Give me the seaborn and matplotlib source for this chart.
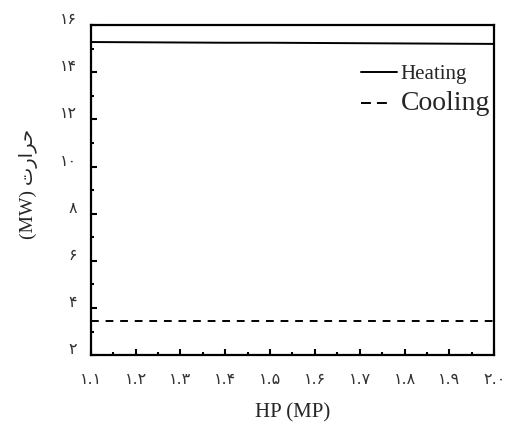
import matplotlib
matplotlib.use("Agg")
import matplotlib.pyplot as plt
import matplotlib.transforms as mtransforms
from matplotlib.lines import Line2D
from matplotlib.ticker import MultipleLocator, FixedLocator, FixedFormatter
import seaborn as sns
import pandas as pd

# ---- data ----
hp = [1.1, 1.2, 1.3, 1.4, 1.5, 1.6, 1.7, 1.8, 1.9, 2.0]
heating = [15.28, 15.27, 15.26, 15.25, 15.25, 15.24, 15.23, 15.22, 15.21, 15.20]
cooling = [3.45, 3.45, 3.45, 3.45, 3.45, 3.45, 3.45, 3.45, 3.45, 3.45]
x_tick_labels = ["۱.۱", "۱.۲", "۱.۳", "۱.۴", "۱.۵", "۱.۶", "۱.۷", "۱.۸", "۱.۹", "۲.۰"]
y_ticks = [2, 4, 6, 8, 10, 12, 14, 16]
y_tick_labels = ["۲", "۴", "۶", "۸", "۱۰", "۱۲", "۱۴", "۱۶"]
series_names = ["Heating", "Cooling"]
# y label: "حرارت (MW)" written with Arabic presentation forms in visual order
y_label = "(MW) \uFE95\uFEAD\uFE8D\uFEAE\uFEA3"
x_label = "HP (MP)"

df = pd.DataFrame({
    "hp": hp * 2,
    "value": heating + cooling,
    "series": [series_names[0]] * len(hp) + [series_names[1]] * len(hp),
})

sns.set_style("white")
plt.rcParams["font.family"] = ["Liberation Serif", "DejaVu Sans"]

fig = plt.figure(figsize=(5.1, 4.32), dpi=100)
ax = fig.add_axes([0.178, 0.178, 0.791, 0.764])

sns.lineplot(data=df, x="hp", y="value", style="series", ax=ax,
             color="black", linewidth=1.4,
             dashes={"Heating": "", "Cooling": (4.0, 3.5)},
             legend=False)

ax.set_xlim(1.1, 2.0)
ax.set_ylim(2, 16)

ax.xaxis.set_major_locator(FixedLocator(hp))
ax.xaxis.set_major_formatter(FixedFormatter(x_tick_labels))
ax.xaxis.set_minor_locator(MultipleLocator(0.05))
ax.yaxis.set_major_locator(FixedLocator(y_ticks))
ax.yaxis.set_major_formatter(FixedFormatter(y_tick_labels))
ax.yaxis.set_minor_locator(MultipleLocator(1))

ax.tick_params(axis="both", which="major", direction="in", length=4, width=1.5,
               labelsize=11.5, bottom=True, left=True, top=False, right=False,
               colors="black")
ax.tick_params(axis="both", which="minor", direction="in", length=2, width=1.5,
               bottom=True, left=True, top=False, right=False, colors="black")
ax.tick_params(axis="x", which="major", pad=12)
ax.tick_params(axis="y", which="major", pad=10)
for lab in ax.get_xticklabels() + ax.get_yticklabels():
    lab.set_family(["DejaVu Sans"])
    lab.set_color("#333333")
offset = mtransforms.ScaledTranslation(0, 7 / 100, fig.dpi_scale_trans)
for lab in ax.get_yticklabels():
    lab.set_transform(lab.get_transform() + offset)

for s in ax.spines.values():
    s.set_visible(True)
    s.set_linewidth(1.6)
    s.set_color("black")

ax.set_xlabel(x_label, fontsize=15, labelpad=12, family="Liberation Serif")
ax.set_ylabel(y_label, fontsize=14, labelpad=16, family=["Liberation Serif", "DejaVu Sans"])
ax.yaxis.label.set_y(0.518)

handles = [
    Line2D([], [], color="black", linewidth=1.4, linestyle="-"),
    Line2D([], [], color="black", linewidth=1.4,
           linestyle=(0, (5.1, 3.1, 5.1, 12))),
]
leg = ax.legend(handles, series_names, loc="upper right",
                bbox_to_anchor=(1.01, 0.906), frameon=False,
                prop={"family": "Liberation Serif", "size": 15},
                handlelength=1.75, handletextpad=0.15, labelspacing=0.34,
                borderaxespad=0.0)
texts = leg.get_texts()
texts[0].set_fontsize(15)
texts[1].set_fontsize(20)

fig.savefig("out.png", dpi=100)
